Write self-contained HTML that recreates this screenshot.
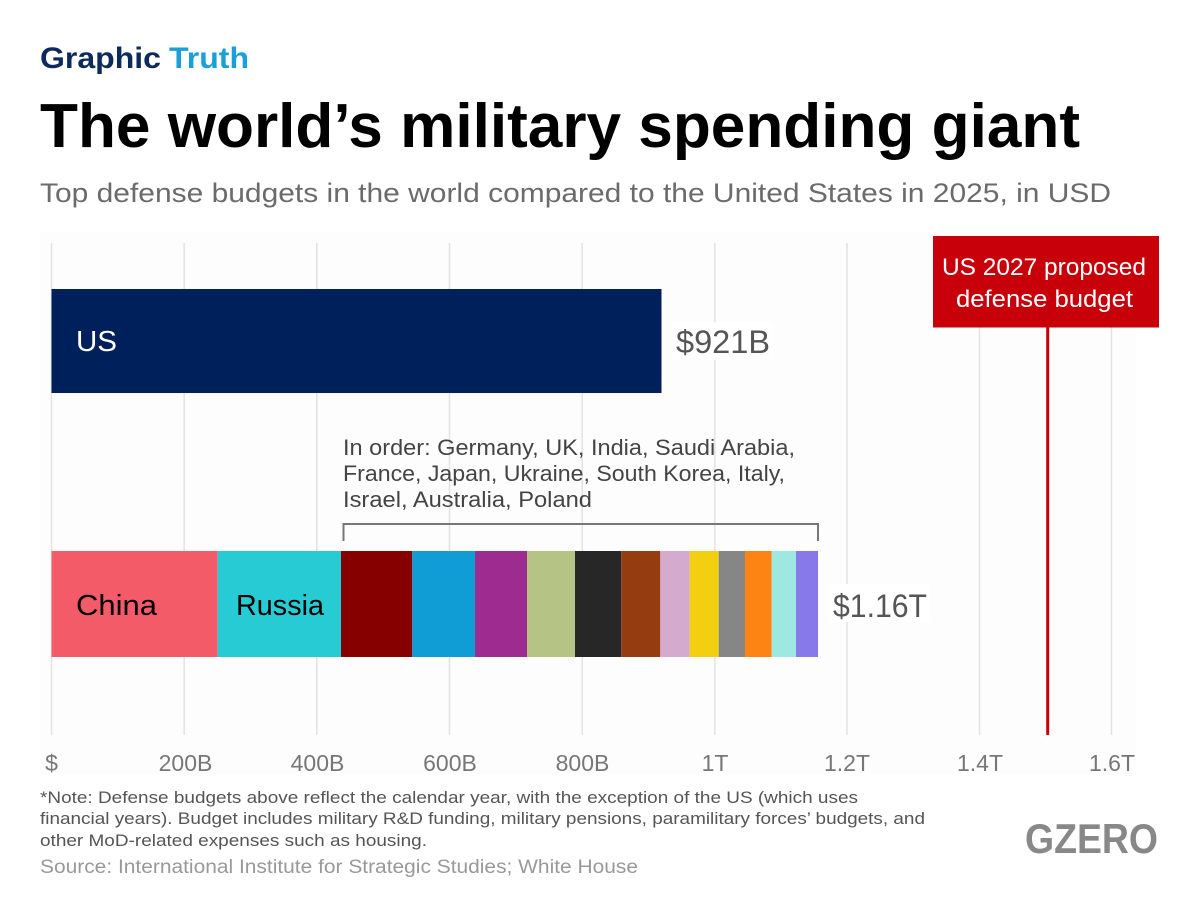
<!DOCTYPE html>
<html>
<head>
<meta charset="utf-8">
<style>
  html, body { margin: 0; padding: 0; background: #ffffff; }
  svg { display: block; }
  text { font-family: "Liberation Sans", sans-serif; }
</style>
</head>
<body>
<svg width="1200" height="900" viewBox="0 0 1200 900" xmlns="http://www.w3.org/2000/svg">
  <rect x="0" y="0" width="1200" height="900" fill="#ffffff"/>

  <!-- Header -->
  <text x="40" y="68" font-size="30" font-weight="bold" fill="#0d2a5c" textLength="121" lengthAdjust="spacingAndGlyphs">Graphic</text>
  <text x="169" y="68" font-size="30" font-weight="bold" fill="#1a9fd9" textLength="80" lengthAdjust="spacingAndGlyphs">Truth</text>
  <text x="40" y="147" font-size="62" font-weight="bold" fill="#000000" textLength="1040" lengthAdjust="spacingAndGlyphs">The world’s military spending giant</text>
  <text x="40" y="202" font-size="27" fill="#6b6b6b" textLength="1071" lengthAdjust="spacingAndGlyphs">Top defense budgets in the world compared to the United States in 2025, in USD</text>

  <!-- Plot background -->
  <rect x="40" y="232" width="1096" height="542" fill="#fdfdfd"/>

  <!-- Gridlines -->
  <g stroke="#e2e2e2" stroke-width="1.5">
    <line x1="51.5" y1="243" x2="51.5" y2="735"/>
    <line x1="184.2" y1="243" x2="184.2" y2="735"/>
    <line x1="316.8" y1="243" x2="316.8" y2="735"/>
    <line x1="449.5" y1="243" x2="449.5" y2="735"/>
    <line x1="582.2" y1="243" x2="582.2" y2="735"/>
    <line x1="714.8" y1="243" x2="714.8" y2="735"/>
    <line x1="847" y1="243" x2="847" y2="735"/>
    <line x1="979.5" y1="243" x2="979.5" y2="735"/>
    <line x1="1111.5" y1="243" x2="1111.5" y2="735"/>
  </g>

  <!-- Axis labels -->
  <g font-size="23" fill="#777777" text-anchor="middle">
    <text x="51.5" y="771">$</text>
    <text x="185.5" y="771">200B</text>
    <text x="317.5" y="771">400B</text>
    <text x="450" y="771">600B</text>
    <text x="582.5" y="771">800B</text>
    <text x="715" y="771">1T</text>
    <text x="847" y="771">1.2T</text>
    <text x="980" y="771">1.4T</text>
    <text x="1112" y="771">1.6T</text>
  </g>

  <!-- US bar -->
  <rect x="51.5" y="289" width="610" height="104" fill="#00205b"/>
  <text x="76" y="351" font-size="29" fill="#ffffff" textLength="41" lengthAdjust="spacingAndGlyphs">US</text>
  <rect x="672" y="322" width="100" height="38" fill="#ffffff"/>
  <text x="676" y="353" font-size="32" fill="#555555" textLength="94" lengthAdjust="spacingAndGlyphs">$921B</text>

  <!-- Red proposed budget -->
  <line x1="1047.7" y1="327" x2="1047.7" y2="735" stroke="#c8000a" stroke-width="3"/>
  <rect x="933" y="236" width="226" height="91.5" fill="#c8000a"/>
  <text x="942" y="275" font-size="24" fill="#ffffff" textLength="204" lengthAdjust="spacingAndGlyphs">US 2027 proposed</text>
  <text x="956" y="307" font-size="24" fill="#ffffff" textLength="177" lengthAdjust="spacingAndGlyphs">defense budget</text>

  <!-- Annotation -->
  <g font-size="22" fill="#444444">
    <text x="343" y="455" textLength="452" lengthAdjust="spacingAndGlyphs">In order: Germany, UK, India, Saudi Arabia,</text>
    <text x="343" y="481" textLength="442" lengthAdjust="spacingAndGlyphs">France, Japan, Ukraine, South Korea, Italy,</text>
    <text x="343" y="507" textLength="249" lengthAdjust="spacingAndGlyphs">Israel, Australia, Poland</text>
  </g>
  <path d="M343.5,541 V524 H818 V541" fill="none" stroke="#777777" stroke-width="2"/>

  <!-- Stacked bar -->
  <g>
    <rect x="51.5" y="551" width="166.2" height="106" fill="#f45b69"/>
    <rect x="217.7" y="551" width="123.3" height="106" fill="#26cbd3"/>
    <rect x="341" y="551" width="71.3" height="106" fill="#870000"/>
    <rect x="412.3" y="551" width="62.7" height="106" fill="#109dd5"/>
    <rect x="475" y="551" width="52" height="106" fill="#9e2b8f"/>
    <rect x="527" y="551" width="48" height="106" fill="#b5c385"/>
    <rect x="575" y="551" width="46.3" height="106" fill="#272727"/>
    <rect x="621.3" y="551" width="39" height="106" fill="#953d11"/>
    <rect x="660.3" y="551" width="29.4" height="106" fill="#d4abcf"/>
    <rect x="689.7" y="551" width="29" height="106" fill="#f2cf10"/>
    <rect x="718.7" y="551" width="26.3" height="106" fill="#868686"/>
    <rect x="745" y="551" width="26.7" height="106" fill="#fd8313"/>
    <rect x="771.7" y="551" width="24.3" height="106" fill="#9de9e2"/>
    <rect x="796" y="551" width="22" height="106" fill="#8779ea"/>
  </g>
  <text x="76" y="615" font-size="29" fill="#000000" textLength="81" lengthAdjust="spacingAndGlyphs">China</text>
  <text x="236" y="615" font-size="29" fill="#000000" textLength="88" lengthAdjust="spacingAndGlyphs">Russia</text>
  <rect x="829" y="584" width="100" height="38" fill="#ffffff"/>
  <text x="833" y="617" font-size="32" fill="#555555" textLength="94" lengthAdjust="spacingAndGlyphs">$1.16T</text>

  <!-- Footer -->
  <g font-size="17" fill="#555555">
    <text x="40" y="803" textLength="818" lengthAdjust="spacingAndGlyphs">*Note: Defense budgets above reflect the calendar year, with the exception of the US (which uses</text>
    <text x="40" y="824" textLength="885" lengthAdjust="spacingAndGlyphs">financial years). Budget includes military R&amp;D funding, military pensions, paramilitary forces’ budgets, and</text>
    <text x="40" y="846" textLength="387" lengthAdjust="spacingAndGlyphs">other MoD-related expenses such as housing.</text>
  </g>
  <text x="40" y="873" font-size="19" fill="#999999" textLength="598" lengthAdjust="spacingAndGlyphs">Source: International Institute for Strategic Studies; White House</text>

  <text x="1025" y="853" font-size="42" font-weight="bold" fill="#888888" textLength="133" lengthAdjust="spacingAndGlyphs">GZERO</text>
</svg>
</body>
</html>
